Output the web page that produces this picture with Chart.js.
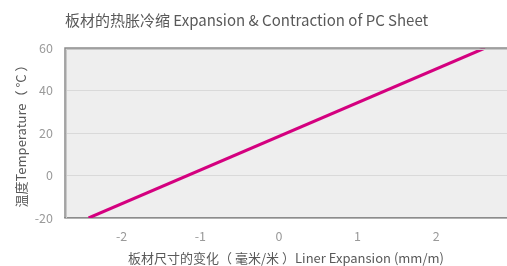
<!DOCTYPE html>
<html>
<head>
<meta charset="utf-8">
<script src="https://cdn.jsdelivr.net/npm/chart.js@4/dist/chart.umd.min.js"></script>
<style>
  html, body { margin: 0; padding: 0; background: #fff; }
  #wrap { width: 507px; height: 266px; }
</style>
</head>
<body>
<div id="wrap"><canvas id="c" width="507" height="266"></canvas></div>
<script>
// data
const expansion = [-2.42, 2.62];   // mm/m
const temperature = [-20, 60];     // °C
const xTicks = [-2, -1, 0, 1, 2];
const yTicks = [-20, 0, 20, 40, 60];

const titleText = '板材的热胀冷缩 Expansion & Contraction of PC Sheet';
const xTitle = '板材尺寸的变化（ 毫米/米 ）Liner Expansion (mm/m)';
const yTitle = '温度Temperature（ °C ）';

const fontFam = '"Noto Sans CJK SC", "Open Sans", sans-serif';

// grey plot background + frame
const plotBg = {
    id: 'plotBg',
    beforeDraw(chart) {
        const a = chart.chartArea, ctx = chart.ctx;
        ctx.save();
        ctx.fillStyle = '#eeeeee';
        ctx.fillRect(a.left, a.top, a.right - a.left, a.bottom - a.top);
        ctx.restore();
    },
    afterDatasetsDraw(chart) {
        const a = chart.chartArea, ctx = chart.ctx;
        ctx.save();
        ctx.strokeStyle = '#c8c8c8';
        ctx.lineWidth = 1;
        ctx.beginPath();
        ctx.moveTo(a.left + 1.5, a.bottom);
        ctx.lineTo(a.left + 1.5, a.top + 1.5);
        ctx.lineTo(a.right, a.top + 1.5);
        ctx.stroke();
        ctx.strokeStyle = '#8c8c8c';
        ctx.lineWidth = 1.5;
        ctx.beginPath();
        ctx.moveTo(a.left, a.bottom);
        ctx.lineTo(a.left, a.top);
        ctx.lineTo(a.right, a.top);
        ctx.stroke();
        ctx.restore();
    }
};

new Chart(document.getElementById('c'), {
    type: 'scatter',
    data: {
        datasets: [{
            data: expansion.map((x, i) => ({ x: x, y: temperature[i] })),
            showLine: true,
            borderColor: '#d4007f',
            borderWidth: 3,
            pointRadius: 0,
            fill: false
        }]
    },
    options: {
        responsive: false,
        animation: false,
        layout: { padding: { left: 0, right: 0, top: 0, bottom: 0 } },
        plugins: {
            legend: { display: false },
            tooltip: { enabled: false },
            title: {
                display: true,
                text: titleText,
                align: 'start',
                fullSize: false,
                color: '#595959',
                font: { family: fontFam, size: 15, weight: 'normal' },
                padding: { top: 11, bottom: 19 }
            }
        },
        scales: {
            x: {
                type: 'linear',
                min: -2.72,
                max: 2.90,
                afterBuildTicks: (s) => { s.ticks = xTicks.map(v => ({ value: v })); },
                afterFit: (s) => { s.height = 48; },
                grid: { display: false },
                border: { display: true, color: '#8c8c8c', width: 1.5 },
                ticks: {
                    color: '#9a9a9a',
                    font: { family: fontFam, size: 12.5 },
                    padding: 3
                },
                title: {
                    display: true,
                    text: xTitle,
                    color: '#595959',
                    font: { family: fontFam, size: 13 },
                    padding: { top: 2, bottom: 0 }
                }
            },
            y: {
                type: 'linear',
                min: -20,
                max: 60,
                afterBuildTicks: (s) => { s.ticks = yTicks.map(v => ({ value: v })); },
                afterFit: (s) => { s.width = 65; },
                grid: { color: '#d9d9d9', lineWidth: 1, drawTicks: false },
                border: { display: false },
                ticks: {
                    color: '#9a9a9a',
                    font: { family: fontFam, size: 12.5 },
                    padding: 12
                },
                title: {
                    display: true,
                    text: yTitle,
                    color: '#595959',
                    font: { family: fontFam, size: 13 },
                    padding: { top: 13, bottom: 0 }
                }
            }
        }
    },
    plugins: [plotBg]
});
</script>
</body>
</html>
